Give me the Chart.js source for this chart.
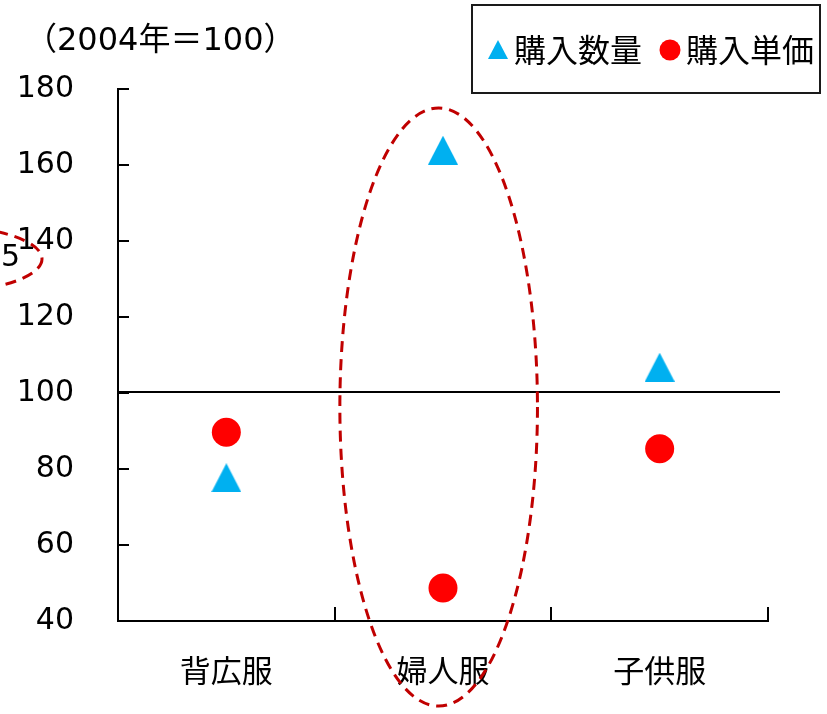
<!DOCTYPE html>
<html>
<head>
<meta charset="utf-8">
<script src="https://cdn.jsdelivr.net/npm/chart.js@4/dist/chart.umd.min.js"></script>
<style>
html, body { margin: 0; padding: 0; background: #fff; }
#wrap { width: 827px; height: 714px; position: relative; }
</style>
</head>
<body>
<div id="wrap"><canvas id="c" width="827" height="714"></canvas></div>
<script>
// 被服の購入数量・購入単価指数（2004年＝100）
const categories = ['背広服', '婦人服', '子供服'];
const quantityIndex = [77.7, 163.9, 106.8];   // 購入数量
const unitPriceIndex = [89.7, 48.7, 85.3];    // 購入単価
const seriesNames = ['購入数量', '購入単価'];
const yTickValues = [40, 60, 80, 100, 120, 140, 160, 180];
const baseYear = 100;
const unitNote = '（2004年＝100）';

const CYAN = '#00B0F0';
const RED = '#FF0000';
const DARK_RED = '#C00000';
const LATIN = '"DejaVu Sans", "Noto Sans CJK JP", sans-serif';

// Triangle marker as an image so its box is centred on the value
function triangleImage(w, h, color) {
  const cv = document.createElement('canvas');
  cv.width = w; cv.height = h;
  const g = cv.getContext('2d');
  g.fillStyle = color;
  g.beginPath();
  g.moveTo(w / 2, 0);
  g.lineTo(w, h);
  g.lineTo(0, h);
  g.closePath();
  g.fill();
  return cv;
}
const bigTriangle = triangleImage(30, 29, CYAN);
const smallTriangle = triangleImage(20, 19, CYAN);

const overlay = {
  id: 'overlay',
  afterDraw(chart) {
    const { ctx, chartArea: a, scales: { x, y } } = chart;
    ctx.save();

    // inward tick marks
    ctx.strokeStyle = '#000';
    ctx.lineWidth = 2;
    ctx.beginPath();
    yTickValues.forEach(v => {
      const py = Math.round(y.getPixelForValue(v));
      ctx.moveTo(a.left, py);
      ctx.lineTo(a.left + 11, py);
    });
    for (let i = 0; i <= categories.length; i++) {
      const px = Math.round(x.getPixelForValue(i - 0.5));
      ctx.moveTo(px, a.bottom);
      ctx.lineTo(px, a.bottom - 14);
    }
    ctx.stroke();

    // 2004年 = 100 reference line
    const by = Math.round(y.getPixelForValue(baseYear)) - 1;
    ctx.beginPath();
    ctx.moveTo(a.left, by);
    ctx.lineTo(a.right + 12, by);
    ctx.stroke();

    // unit note
    ctx.fillStyle = '#000';
    ctx.font = '32px ' + LATIN;
    ctx.textBaseline = 'middle';
    ctx.textAlign = 'left';
    ctx.fillText(unitNote, 25, 42);

    // legend
    ctx.lineWidth = 2;
    ctx.strokeStyle = '#1a1a1a';
    ctx.strokeRect(472, 5, 348, 88);
    ctx.drawImage(smallTriangle, 488, 40);
    ctx.fillStyle = RED;
    ctx.beginPath();
    ctx.arc(670, 50, 10.5, 0, Math.PI * 2);
    ctx.fill();
    ctx.fillStyle = '#000';
    ctx.font = '32px "Noto Sans CJK JP", sans-serif';
    ctx.fillText(seriesNames[0], 514, 50);
    ctx.fillText(seriesNames[1], 686, 50);

    // dashed ellipse around 婦人服
    ctx.strokeStyle = DARK_RED;
    ctx.lineWidth = 3;
    ctx.setLineDash([11, 7]);
    const cx = x.getPixelForValue(0.98);
    const top = y.getPixelForValue(175);
    const bottom = y.getPixelForValue(17.6);
    const rx = (x.getPixelForValue(1) - x.getPixelForValue(0)) * 0.456;
    ctx.beginPath();
    ctx.ellipse(cx, (top + bottom) / 2, rx, (bottom - top) / 2, 0, 0, Math.PI * 2);
    ctx.stroke();

    // neighbouring annotation at the left edge
    ctx.beginPath();
    ctx.ellipse(-60, 259, 102, 33, 0, 0, Math.PI * 2);
    ctx.stroke();
    ctx.setLineDash([]);
    ctx.fillStyle = '#000';
    ctx.font = '30px ' + LATIN;
    ctx.textAlign = 'right';
    ctx.fillText('5', 20, 258);

    ctx.restore();
  }
};

new Chart(document.getElementById('c'), {
  type: 'line',
  data: {
    labels: categories,
    datasets: [
      {
        label: seriesNames[0],
        data: quantityIndex,
        showLine: false,
        pointStyle: bigTriangle,
        pointRadius: 15,
        pointHoverRadius: 15,
        backgroundColor: CYAN,
        borderColor: CYAN
      },
      {
        label: seriesNames[1],
        data: unitPriceIndex,
        showLine: false,
        pointStyle: 'circle',
        pointRadius: 14.5,
        pointHoverRadius: 14.5,
        pointBorderWidth: 0,
        backgroundColor: RED,
        borderColor: RED
      }
    ]
  },
  options: {
    responsive: false,
    devicePixelRatio: 1,
    animation: false,
    events: [],
    layout: { padding: { top: 89, right: 59, left: 0, bottom: 0 } },
    plugins: {
      legend: { display: false },
      tooltip: { enabled: false },
      title: { display: false }
    },
    scales: {
      x: {
        type: 'category',
        offset: true,
        grid: { display: true, drawOnChartArea: false, drawTicks: false, offset: true },
        border: { display: true, color: '#000', width: 2 },
        ticks: {
          color: '#000',
          padding: 31,
          font: { size: 31, family: '"Noto Sans CJK JP", sans-serif' }
        },
        afterFit(s) { s.height = 93; }
      },
      y: {
        min: 40,
        max: 180,
        grid: { display: true, drawOnChartArea: false, drawTicks: false },
        border: { display: true, color: '#000', width: 2 },
        ticks: {
          stepSize: 20,
          color: '#000',
          padding: 44,
          font: { size: 30, family: LATIN }
        },
        afterFit(s) { s.width = 118; }
      }
    }
  },
  plugins: [overlay]
});
</script>
</body>
</html>
